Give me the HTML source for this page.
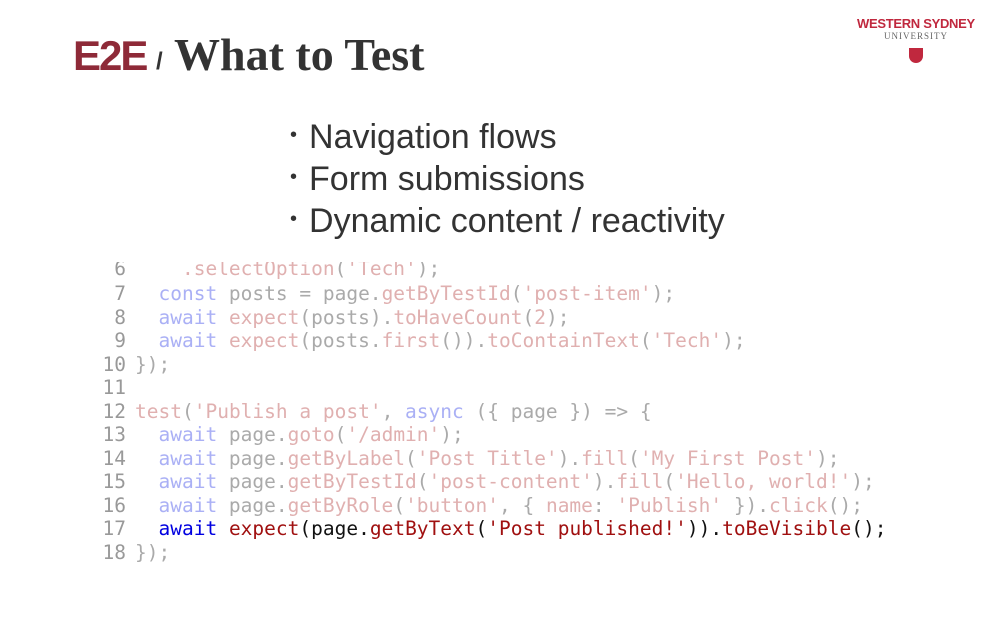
<!DOCTYPE html>
<html><head><meta charset="utf-8"><style>
html,body{margin:0;padding:0;background:#fff;width:1000px;height:624px;overflow:hidden;position:relative;font-family:"Liberation Sans",sans-serif}
.abs{position:absolute;white-space:pre}
.e2e{left:73px;top:30px;font-family:"Liberation Sans",sans-serif;font-weight:bold;color:#8e2a38;letter-spacing:-2px;font-size:42px;line-height:52px}
.sl{left:156px;top:42px;font-family:"Liberation Sans",sans-serif;font-weight:bold;color:#333;font-size:24px;line-height:40px}
.wt{left:174px;top:29px;font-family:"Liberation Serif",serif;font-weight:bold;color:#333;font-size:46px;line-height:52px}
.b{left:290px;font-size:34px;color:#333;line-height:40px}
.b span{font-size:20px;vertical-align:7px;margin-right:12px}
.code{font-family:"DejaVu Sans Mono","Liberation Mono",monospace;font-size:19.5px;line-height:23.5px}
.num{left:90px;width:36px;text-align:right;color:#999}
.c{left:135px;color:#aaa}
.k{color:#aab0f5}.f{color:#e0b0b0}.s{color:#e0b0b0}.p{color:#aaa}
.K{color:#0000e0}.F{color:#a01010}.S{color:#a01010}.P{color:#111}
</style></head><body>
<div class="abs e2e">E2E</div><div class="abs sl">/</div><div class="abs wt">What to Test</div>
<div class="abs" style="left:857px;top:16px;font-size:13px;font-weight:bold;color:#c0283e;letter-spacing:-0.3px">WESTERN SYDNEY</div>
<div class="abs" style="left:884px;top:31px;font-size:9px;font-family:'Liberation Serif',serif;color:#666;letter-spacing:1px">UNIVERSITY</div>
<div class="abs" style="left:909px;top:48px;width:14px;height:15px;background:#c0283e;border-radius:0 0 7px 7px"></div>

<div class="abs b" style="top:115px"><span>•</span>Navigation flows</div>
<div class="abs b" style="top:157px"><span>•</span>Form submissions</div>
<div class="abs b" style="top:199px"><span>•</span>Dynamic content / reactivity</div>

<div class="abs code" style="left:0;top:262px;width:1000px;height:320px;overflow:hidden">
<div class="abs code" style="left:0;top:-5px;width:1000px;height:320px">
<div class="abs num" style="top:0">6</div><div class="abs c" style="top:0">    <span class="f">.selectOption</span>(<span class="s">'Tech'</span>);</div>
<div class="abs num" style="top:25px">7</div><div class="abs c" style="top:25px">  <span class="k">const</span> posts = page.<span class="f">getByTestId</span>(<span class="s">'post-item'</span>);</div>
<div class="abs num" style="top:48.5px">8</div><div class="abs c" style="top:48.5px">  <span class="k">await</span> <span class="f">expect</span>(posts).<span class="f">toHaveCount</span>(<span class="s">2</span>);</div>
<div class="abs num" style="top:72px">9</div><div class="abs c" style="top:72px">  <span class="k">await</span> <span class="f">expect</span>(posts.<span class="f">first</span>()).<span class="f">toContainText</span>(<span class="s">'Tech'</span>);</div>
<div class="abs num" style="top:95.5px">10</div><div class="abs c" style="top:95.5px">});</div>
<div class="abs num" style="top:119px">11</div>
<div class="abs num" style="top:142.5px">12</div><div class="abs c" style="top:142.5px"><span class="f">test</span>(<span class="s">'Publish a post'</span>, <span class="k">async</span> ({ page }) =&gt; {</div>
<div class="abs num" style="top:166px">13</div><div class="abs c" style="top:166px">  <span class="k">await</span> page.<span class="f">goto</span>(<span class="s">'/admin'</span>);</div>
<div class="abs num" style="top:189.5px">14</div><div class="abs c" style="top:189.5px">  <span class="k">await</span> page.<span class="f">getByLabel</span>(<span class="s">'Post Title'</span>).<span class="f">fill</span>(<span class="s">'My First Post'</span>);</div>
<div class="abs num" style="top:213px">15</div><div class="abs c" style="top:213px">  <span class="k">await</span> page.<span class="f">getByTestId</span>(<span class="s">'post-content'</span>).<span class="f">fill</span>(<span class="s">'Hello, world!'</span>);</div>
<div class="abs num" style="top:236.5px">16</div><div class="abs c" style="top:236.5px">  <span class="k">await</span> page.<span class="f">getByRole</span>(<span class="s">'button'</span>, { <span class="s">name</span>: <span class="s">'Publish'</span> }).<span class="f">click</span>();</div>
<div class="abs num" style="top:260px">17</div><div class="abs c" style="top:260px">  <span class="K">await</span> <span class="F">expect</span><span class="P">(page.</span><span class="F">getByText</span><span class="P">(</span><span class="S">'Post published!'</span><span class="P">)).</span><span class="F">toBeVisible</span><span class="P">();</span></div>
<div class="abs num" style="top:283.5px">18</div><div class="abs c" style="top:283.5px">});</div>
</div>
</div>
</body></html>
